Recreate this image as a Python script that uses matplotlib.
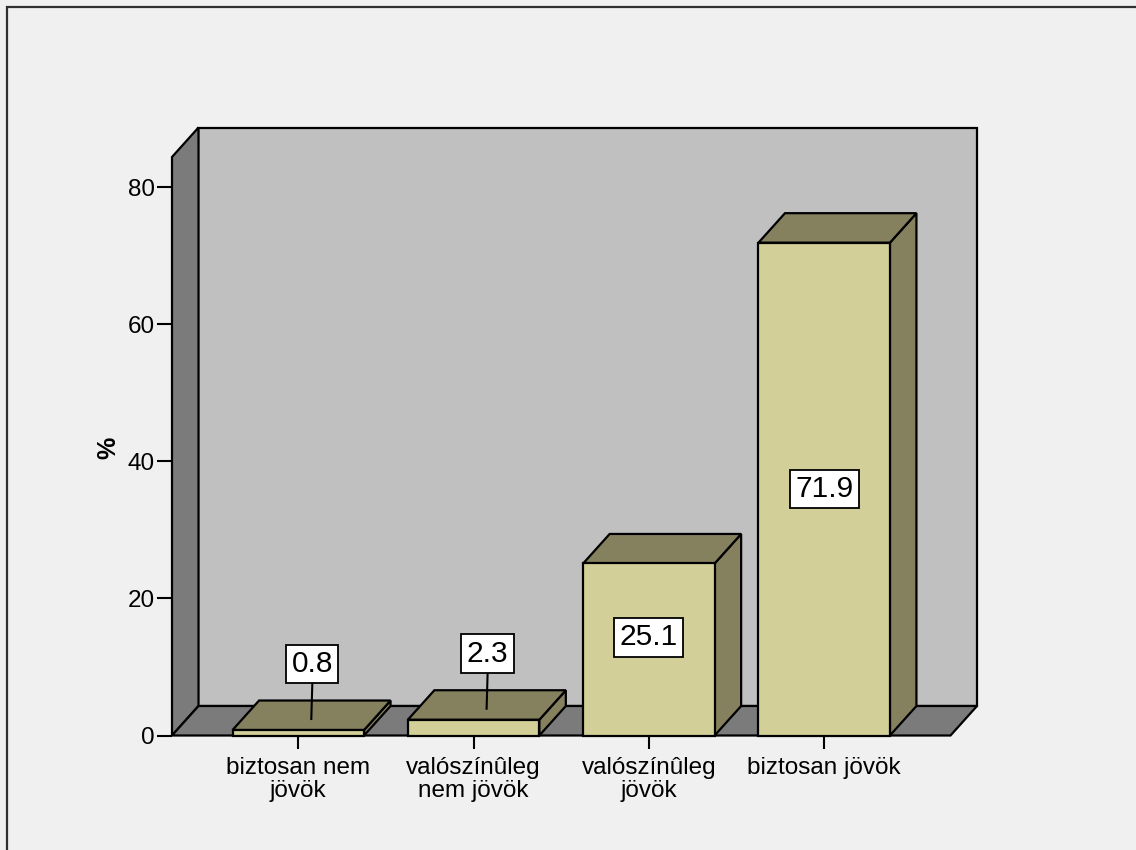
import matplotlib
matplotlib.use("Agg")
import matplotlib.pyplot as plt
from matplotlib.patches import Polygon, Rectangle

# ---- data ----
categories = ["biztosan nem\njövök", "valószínûleg\nnem jövök", "valószínûleg\njövök", "biztosan jövök"]
values = [0.8, 2.3, 25.1, 71.9]
y_ticks = [0, 20, 40, 60, 80]
y_label = "%"

# ---- style ----
W, H = 1136, 850
fig = plt.figure(figsize=(W / 100, H / 100), dpi=100)
fig.patch.set_facecolor("#F0F0F0")
plt.rcParams["font.family"] = ["Liberation Sans", "DejaVu Sans"]

ax_l, ax_r, ax_b, ax_t = 172, 950.5, 735.5, 157
ax = fig.add_axes([ax_l / W, (H - ax_b) / H, (ax_r - ax_l) / W, (ax_b - ax_t) / H])
ax.set_facecolor("none")
for s in ax.spines.values():
    s.set_visible(False)

xmin, xmax = -0.7205, 3.7205
ymin, ymax = 0, 84.4
ax.set_xlim(xmin, xmax)
ax.set_ylim(ymin, ymax)

ax_wpx, ax_hpx = ax_r - ax_l, ax_b - ax_t
dx_px, dy_px = 26.5, 29.5
px_x = (xmax - xmin) / ax_wpx
px_y = (ymax - ymin) / ax_hpx
ddx, ddy = dx_px * px_x, dy_px * px_y

wall_c = "#C0C0C0"
side_c = "#7B7B7B"
front_c = "#D3CF98"
dark_c = "#85815F"
lw = 1.6

# back wall
ax.add_patch(Rectangle((xmin + ddx, ddy), xmax - xmin, ymax - ymin, fc=wall_c, ec="black",
                       lw=lw, clip_on=False, zorder=1))
# left wall
ax.add_patch(Polygon([(xmin, 0), (xmin + ddx, ddy), (xmin + ddx, ymax + ddy), (xmin, ymax)],
                     closed=True, fc=side_c, ec="black", lw=lw, clip_on=False, zorder=1.1))
# floor
ax.add_patch(Polygon([(xmin, 0), (xmax, 0), (xmax + ddx, ddy), (xmin + ddx, ddy)],
                     closed=True, fc=side_c, ec="black", lw=lw, clip_on=False, zorder=1.1))

bw = 0.75
xs = list(range(len(values)))
ax.bar(xs, values, width=bw, color=front_c, edgecolor="black", linewidth=lw, zorder=3,
       clip_on=False)
for x, v in zip(xs, values):
    l, r = x - bw / 2, x + bw / 2
    ax.add_patch(Polygon([(r, 0), (r + ddx, ddy), (r + ddx, v + ddy), (r, v)], closed=True,
                         fc=dark_c, ec="black", lw=lw, clip_on=False, zorder=2.5,
                         joinstyle="miter"))
    ax.add_patch(Polygon([(l, v), (l + ddx, v + ddy), (r + ddx, v + ddy), (r, v)], closed=True,
                         fc=dark_c, ec="black", lw=lw, clip_on=False, zorder=2.6,
                         joinstyle="miter"))

# value labels
box = dict(boxstyle="square,pad=0.18", fc="white", ec="black", lw=1.3)
inside_off = [0, 0, 12, 0]
for x, v, off in zip(xs, values, inside_off):
    if v < 10:
        bx = x + 14 * px_x
        by = v + 66 * px_y
        ax.plot([bx, x + 13 * px_x], [v + 46 * px_y, v + 11 * px_y], color="black", lw=1.5,
                zorder=4, clip_on=False)
        ax.text(bx, by, f"{v:.1f}", ha="center", va="center", fontsize=21.5, bbox=box, zorder=5)
    else:
        ax.text(x, v / 2 + off * px_y, f"{v:.1f}", ha="center", va="center", fontsize=21.5,
                bbox=box, zorder=5)

ax.set_xticks(xs)
ax.set_xticklabels(categories, fontsize=17.5, linespacing=1.05)
ax.set_yticks(y_ticks)
ax.set_yticklabels([str(t) for t in y_ticks], fontsize=17.5)
ax.tick_params(axis="x", length=9.5, width=1.5, pad=6, color="black")
ax.tick_params(axis="y", length=10.8, width=1.5, pad=1.5, color="black")

ax.text(-64 / ax_wpx, (ax_b - 448) / ax_hpx, y_label, transform=ax.transAxes, rotation=90,
        ha="center", va="center", fontsize=18, fontweight="bold")

# outer frame
fig.add_artist(Rectangle((7 / W, -1), 2, 1 - 7 / H + 1, transform=fig.transFigure,
                         fill=False, ec="#303030", lw=1.6, clip_on=False))

fig.savefig("out.png", dpi=100, facecolor=fig.get_facecolor())
